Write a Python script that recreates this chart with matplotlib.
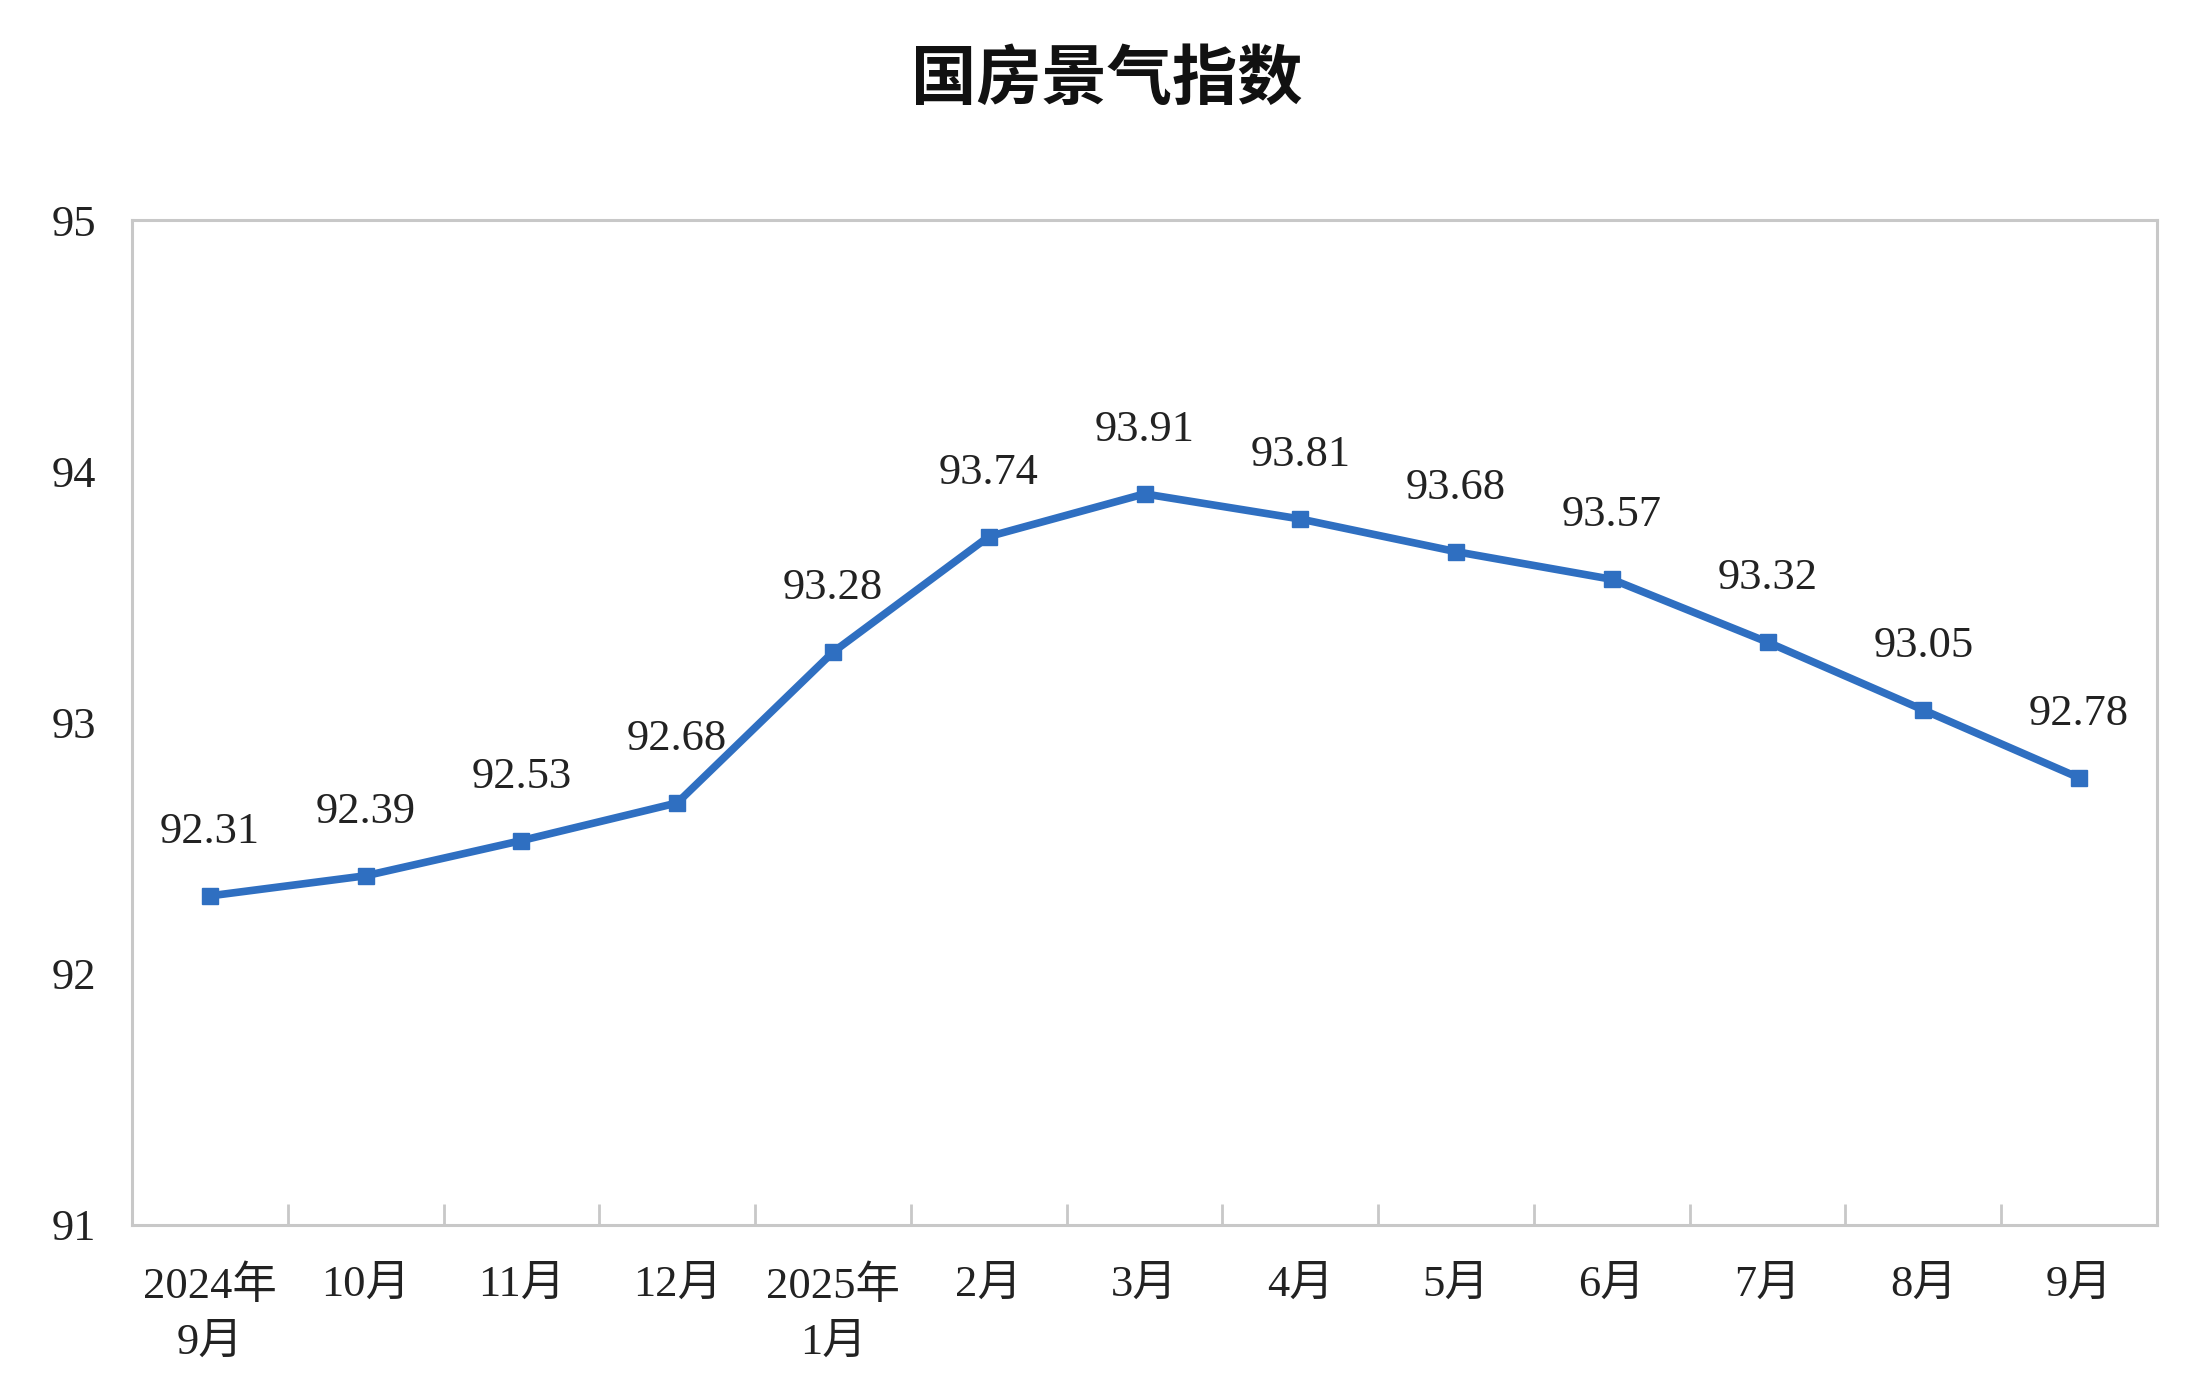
import matplotlib
matplotlib.use("Agg")
import matplotlib.pyplot as plt
from matplotlib.ticker import FixedLocator, NullLocator

# 数据
months = ["2024年\n9月", "10月", "11月", "12月", "2025年\n1月", "2月", "3月",
          "4月", "5月", "6月", "7月", "8月", "9月"]
index_values = [92.31, 92.39, 92.53, 92.68, 93.28, 93.74, 93.91,
                93.81, 93.68, 93.57, 93.32, 93.05, 92.78]
y_ticks = [91, 92, 93, 94, 95]

plt.rcParams['font.family'] = ['Liberation Serif', 'Noto Sans CJK SC']

fig = plt.figure(figsize=(21.94, 13.96), dpi=100)
ax = fig.add_axes([0.0602, 0.1225, 0.9229, 0.7199])

x = list(range(len(months)))
ax.plot(x, index_values, color='#2F6FC1', linewidth=5.5, marker='s',
        markersize=11, markerfacecolor='#2F6FC1', markeredgecolor='#2F6FC1')

# 数据标签
for xi, v in zip(x, index_values):
    ax.annotate(f"{v:.2f}", (xi, v), xytext=(0, 46), textcoords='offset points',
                ha='center', va='center', fontsize=32, color='#222222')

ax.set_xlim(-0.5, len(months) - 0.5)
ax.set_ylim(91, 95)
ax.set_yticks(y_ticks)
ax.set_yticklabels([str(t) for t in y_ticks])
ax.set_xticks(x)
ax.set_xticklabels(months, linespacing=1.5)

# 分类之间的刻度线
ax.xaxis.set_minor_locator(FixedLocator([i + 0.5 for i in range(len(months) - 1)]))
ax.yaxis.set_minor_locator(NullLocator())
ax.tick_params(axis='x', which='major', length=0, pad=29, labelsize=32, labelcolor='#222222')
ax.tick_params(axis='x', which='minor', length=15, width=2, direction='in', color='#c8c8c8')
ax.tick_params(axis='y', which='major', length=0, pad=26, labelsize=32, labelcolor='#222222')

for s in ax.spines.values():
    s.set_color('#c8c8c8')
    s.set_linewidth(2.2)

fig.text(0.5045, 0.943, "国房景气指数", ha='center', va='center', fontsize=47,
         fontweight='bold', family=['Noto Sans CJK SC'], color='#111111')

fig.savefig("out.png", dpi=100)
